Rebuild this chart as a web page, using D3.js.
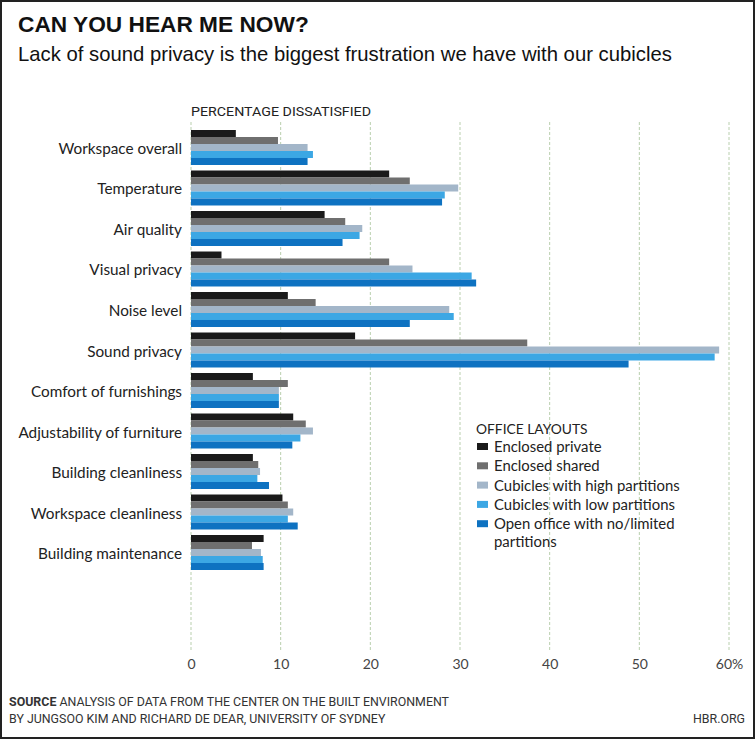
<!DOCTYPE html>
<html><head><meta charset="utf-8">
<script src="https://cdn.jsdelivr.net/npm/d3@7"></script>
<style>
html,body{margin:0;padding:0;background:#fff;}
svg{display:block;}
</style></head>
<body>
<svg id="chart" width="755" height="739"></svg>
<script>
const categories = ["Workspace overall","Temperature","Air quality","Visual privacy","Noise level","Sound privacy","Comfort of furnishings","Adjustability of furniture","Building cleanliness","Workspace cleanliness","Building maintenance"];
const seriesNames = ["Enclosed private","Enclosed shared","Cubicles with high partitions","Cubicles with low partitions","Open office with no/limited partitions"];
const enclosedPrivate = [5.0,22.1,14.9,3.4,10.8,18.3,6.9,11.4,6.9,10.2,8.1];
const enclosedShared  = [9.7,24.4,17.2,22.1,13.9,37.5,10.8,12.8,7.5,10.8,6.8];
const cubHigh         = [13.0,29.8,19.1,24.7,28.8,58.9,9.8,13.6,7.7,11.4,7.8];
const cubLow          = [13.6,28.3,18.8,31.3,29.3,58.4,9.8,12.2,7.4,10.8,8.0];
const openOffice      = [13.0,28.0,16.9,31.8,24.4,48.8,9.8,11.3,8.7,11.9,8.1];
const seriesValues = [enclosedPrivate, enclosedShared, cubHigh, cubLow, openOffice];
const colors = ["#1a1a1a","#6f6f6f","#a3b6c9","#3ca7e4","#0e72c1"];
const tickValues = [0,10,20,30,40,50,60];
const tickLabels = ["0","10","20","30","40","50","60%"];

const svg = d3.select("#chart");
svg.append("rect").attr("x",1).attr("y",1).attr("width",753).attr("height",737)
  .attr("fill","#fff").attr("stroke","#222").attr("stroke-width",2);

svg.append("text").attr("x",18).attr("y",32)
  .attr("font-family","Liberation Sans, Arial, sans-serif").attr("font-weight","bold")
  .attr("font-size",22.7).attr("fill","#111").text("CAN YOU HEAR ME NOW?");
svg.append("text").attr("x",18).attr("y",61)
  .attr("font-family","Liberation Sans, Arial, sans-serif")
  .attr("font-size",20.3).attr("fill","#111")
  .text("Lack of sound privacy is the biggest frustration we have with our cubicles");

const x = d3.scaleLinear().domain([0,60]).range([191,729]);
const y0 = d3.scaleBand().domain(categories).range([130,570]).paddingInner(0.136).paddingOuter(0);
const y1 = d3.scaleBand().domain(d3.range(5)).range([0,y0.bandwidth()]);

svg.append("g").selectAll("line").data(tickValues).join("line")
  .attr("x1",d=>x(d)).attr("x2",d=>x(d)).attr("y1",122).attr("y2",650)
  .attr("stroke","#b9cfae").attr("stroke-width",1).attr("stroke-dasharray","3,2");

svg.append("text").attr("x",191).attr("y",116)
  .attr("font-family","Roboto, sans-serif")
  .attr("font-size",13).attr("textLength",180).attr("lengthAdjust","spacingAndGlyphs")
  .attr("fill","#222").text("PERCENTAGE DISSATISFIED");

const axis = d3.axisBottom(x).tickValues(tickValues).tickFormat((d,i)=>tickLabels[i]).tickSize(0).tickPadding(0);
const ax = svg.append("g").attr("transform","translate(0,659)").call(axis);
ax.select(".domain").remove();
ax.selectAll("text").attr("font-family","Lato, sans-serif").attr("font-size",14).attr("fill","#444");

const groups = svg.append("g").selectAll("g").data(categories).join("g")
  .attr("transform",d=>`translate(0,${y0(d)})`);
groups.selectAll("rect").data((d,i)=>seriesValues.map((s,k)=>({k,v:s[i]}))).join("rect")
  .attr("x",x(0)).attr("y",d=>y1(d.k)).attr("height",y1.bandwidth())
  .attr("width",d=>x(d.v)-x(0)).attr("fill",d=>colors[d.k]);

svg.append("g").selectAll("text").data(categories).join("text")
  .attr("x",182).attr("y",d=>y0(d)+y0.bandwidth()/2+6.5)
  .attr("text-anchor","end").attr("font-family","Lato, sans-serif")
  .attr("font-size",15.3).attr("fill","#222").text(d=>d);

const lg = svg.append("g");
lg.append("text").attr("x",476).attr("y",434).attr("font-family","Lato, sans-serif")
  .attr("font-size",13.8).attr("fill","#222").text("OFFICE LAYOUTS");
const legendLines = [["Enclosed private"],["Enclosed shared"],["Cubicles with high partitions"],["Cubicles with low partitions"],["Open office with no/limited","partitions"]];
legendLines.forEach((lines,i)=>{
  const yy = 452 + i*19.3;
  lg.append("rect").attr("x",477).attr("y",yy-9).attr("width",11).attr("height",7).attr("fill",colors[i]);
  const t = lg.append("text").attr("x",494).attr("y",yy).attr("font-family","Lato, sans-serif")
      .attr("font-size",14.9).attr("fill","#222");
  lines.forEach((s,j)=>{
    t.append("tspan").attr("x",494).attr("dy",j===0?0:18).text(s);
  });
});

const src = svg.append("g").attr("font-family","Roboto, sans-serif").attr("font-size",12.4).attr("fill","#333");
const s1 = src.append("text").attr("x",9).attr("y",706);
s1.append("tspan").attr("font-weight","bold").text("SOURCE");
s1.append("tspan").text(" ANALYSIS OF DATA FROM THE CENTER ON THE BUILT ENVIRONMENT");
src.append("text").attr("x",9).attr("y",723).text("BY JUNGSOO KIM AND RICHARD DE DEAR, UNIVERSITY OF SYDNEY");
src.append("text").attr("x",745).attr("y",723).attr("text-anchor","end").text("HBR.ORG");
</script>
</body></html>
